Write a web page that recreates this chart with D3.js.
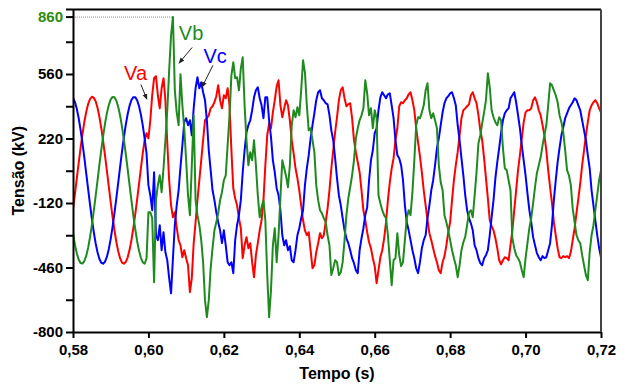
<!DOCTYPE html>
<html>
<head>
<meta charset="utf-8">
<script src="https://cdn.jsdelivr.net/npm/d3@7"></script>
<style>
  body { margin: 0; background: #fff; }
  svg { display: block; }
  text { font-family: Arial, "Liberation Sans", sans-serif; }
</style>
</head>
<body>
<svg id="chart" width="627" height="385"></svg>
<script>
// amostragem: 0,5 ms a partir de 0,58 s
const t0 = 0.58;
const dt = 0.0005;

// tensões de fase (kV)
const va = [
  -155,-75,8,90,169,242,307,360,401,428,
  440,435,416,382,334,275,205,129,48,-35,
  -117,-194,-265,-326,-376,-412,-434,-440,-431,-406,
  -367,-315,-252,-180,-102,-20,63,143,211,248,
  221,316,448,538,548,448,379,485,538,422,
  195,0,-132,-195,-169,-248,-316,-343,-406,-369,
  -411,-448,-590,-516,-332,-221,-105,0,105,211,
  316,327,343,379,390,411,443,501,422,379,
  448,432,485,395,158,-42,-95,-132,-200,-253,
  -411,-343,-300,-358,-332,-432,-511,-395,-332,-264,
  -211,-105,79,237,300,274,358,422,495,527,
  395,332,379,422,395,316,211,142,63,11,
  -53,-132,-211,-264,-290,-274,-369,-464,-448,-379,
  -332,-279,-306,-290,-221,-148,-53,63,158,253,
  332,422,474,490,432,390,400,406,327,211,
  148,95,42,-53,-158,-211,-274,-327,-358,-411,
  -453,-543,-474,-406,-369,-306,-221,-105,-11,63,
  116,211,274,390,411,406,422,432,453,464,
  422,369,274,200,126,42,-53,-132,-211,-279,
  -316,-358,-400,-432,-474,-490,-432,-400,-343,-274,
  -221,-105,0,79,148,237,327,369,379,390,
  400,448,464,432,406,343,263,211,116,11,
  -95,-211,-242,-264,-306,-358,-422,-443,-422,-406,
  -411,-422,-343,-264,-158,-53,53,132,221,306,
  358,369,369,379,422,437,411,369,343,290,
  237,158,53,-37,-121,-221,-290,-358,-406,-411,
  -400,-406,-400,-411,-379,-316,-253,-174,-95,-16,
  79,158,237,306,369,395,411,422,406,379,
  358
];

const vb = [
  -279,-338,-385,-418,-436,-439,-427,-399,-357,-302,
  -237,-163,-84,-2,81,160,234,300,355,397,
  426,439,437,419,386,340,282,213,137,57,
  -26,-108,-186,-257,-320,-371,-409,-432,-440,-411,
  -169,-169,-200,-538,-105,-26,26,-63,63,211,
  369,580,764,860,474,358,290,559,395,274,
  105,-79,-184,79,342,-105,-184,-237,-316,-432,
  -632,-722,-632,-464,-358,-264,-221,-174,-105,-63,
  0,26,184,342,553,622,538,543,474,590,
  648,395,211,79,148,105,211,79,-79,-195,
  -142,-105,-211,-500,-722,-580,-343,-253,-432,-290,
  -90,105,63,21,-37,79,290,369,332,385,
  342,474,632,569,395,263,274,211,148,-26,
  -105,-158,-174,-200,-221,-290,-343,-500,-464,-422,
  -432,-500,-485,-432,-316,-184,-95,-37,26,105,
  221,274,316,342,379,527,458,342,379,274,
  369,327,-79,-121,-158,-184,-200,-290,-422,-553,
  -422,-411,-279,-395,-453,-432,-316,-200,-158,-184,
  -63,105,290,332,327,358,395,474,511,369,
  327,353,316,274,79,-11,-53,-184,-221,-264,
  -316,-369,-411,-448,-511,-448,-369,-327,-299,-237,
  -169,-158,-195,-79,42,195,237,300,358,422,
  564,490,369,332,306,290,332,316,169,63,
  53,0,-53,-306,-358,-395,-411,-432,-474,-511,
  -411,-332,-253,-200,-121,-37,37,79,121,184,
  237,290,395,511,501,474,448,411,343,306,
  253,158,53,26,-26,-148,-221,-290,-316,-332,
  -395,-448,-500,-527,-379,-290,-237,-158,-79,0,
  53
];

const vc = [
  434,413,377,328,267,197,120,38,-44,-126,
  -203,-272,-332,-380,-415,-435,-440,-429,-403,-362,
  -309,-245,-172,-93,-11,72,152,227,293,349,
  393,423,438,438,422,391,346,289,219,141,
  -26,-79,-158,42,-290,-316,-237,-369,-274,-380,
  -422,-516,-596,-411,-237,-132,-53,69,184,306,
  327,290,316,237,379,485,543,485,516,464,
  422,316,158,53,-53,-105,-169,-221,-264,-331,
  -264,-343,-432,-448,-432,-490,-316,-237,-184,-105,
  42,158,253,290,316,369,437,474,490,432,
  395,327,437,437,316,227,105,42,-42,-79,
  -158,-290,-343,-316,-369,-348,-422,-432,-369,-290,
  -253,-200,-158,-26,63,132,221,290,353,422,
  464,474,432,422,406,400,343,263,211,116,
  11,-79,-132,-200,-264,-306,-332,-369,-411,-437,
  -474,-490,-369,-306,-253,-184,-142,0,105,158,
  248,274,369,437,464,448,432,453,458,395,
  327,211,132,116,79,0,-132,-221,-264,-316,
  -369,-411,-464,-490,-432,-358,-316,-290,-200,-132,
  -53,0,79,169,221,290,358,406,432,443,
  458,464,432,395,290,211,116,26,-79,-158,
  -200,-227,-264,-343,-369,-411,-437,-448,-411,-395,
  -369,-290,-195,-105,11,95,169,248,316,353,
  369,379,432,448,464,411,343,274,184,105,
  26,-69,-158,-221,-300,-343,-384,-406,-422,-400,
  -411,-406,-369,-332,-237,-105,0,95,169,237,
  279,327,353,379,395,411,432,422,395,369,
  316,263,211,132,63,-53,-132,-211,-290,-358,
  -406
];

const tempo = va.map((_, i) => +(t0 + i * dt).toFixed(4));

const xTicks = [0.58, 0.60, 0.62, 0.64, 0.66, 0.68, 0.70, 0.72];
const yTicks = [-800, -630, -460, -290, -120, 50, 220, 390, 560, 730];
const yLabels = [-800, -460, -120, 220, 560];
const yMax = 900;
const picoVb = 860;

// rótulos e setas, em unidades de dados
const rotulos = [
  { nome: 'Va', cor: '#ff0000', t: 0.5966, v: 530, de: [0.5980, 505], para: [0.5996, 427] },
  { nome: 'Vb', cor: '#1f8a1f', t: 0.6113, v: 740, de: [0.6116, 700], para: [0.6081, 617] },
  { nome: 'Vc', cor: '#0000ff', t: 0.6177, v: 617, de: [0.6171, 606], para: [0.6142, 490] }
];

const series = [
  { nome: 'Va', cor: '#ff0000', valores: va },
  { nome: 'Vc', cor: '#0000ff', valores: vc },
  { nome: 'Vb', cor: '#1f8a1f', valores: vb }
];

const svg = d3.select('#chart');
const margin = { left: 73, right: 601, top: 9.5, bottom: 332 };

const x = d3.scaleLinear().domain([0.58, 0.72]).range([margin.left, margin.right]);
const y = d3.scaleLinear().domain([-800, yMax]).range([margin.bottom, margin.top]);

const defs = svg.append('defs');
defs.append('clipPath').attr('id', 'clip')
  .append('rect')
  .attr('x', margin.left).attr('y', margin.top - 2)
  .attr('width', margin.right - margin.left)
  .attr('height', margin.bottom - margin.top + 2);

defs.append('marker')
  .attr('id', 'seta')
  .attr('viewBox', '0 0 10 10')
  .attr('refX', 9).attr('refY', 5)
  .attr('markerWidth', 6).attr('markerHeight', 6)
  .attr('markerUnits', 'userSpaceOnUse')
  .attr('orient', 'auto')
  .append('path')
  .attr('d', 'M0,1 L10,5 L0,9 Z')
  .attr('fill', '#222');

// linha pontilhada no pico de Vb
const iPico = vb.indexOf(picoVb);
svg.append('line')
  .attr('x1', x(0.58)).attr('x2', x(tempo[iPico]))
  .attr('y1', y(picoVb)).attr('y2', y(picoVb))
  .attr('stroke', '#888')
  .attr('stroke-width', 1)
  .attr('stroke-dasharray', '1,1');

// séries
const line = d3.line()
  .x((d, i) => x(tempo[i]))
  .y(d => y(d));

series.forEach(s => {
  svg.append('path')
    .datum(s.valores)
    .attr('clip-path', 'url(#clip)')
    .attr('fill', 'none')
    .attr('stroke', s.cor)
    .attr('stroke-width', 2)
    .attr('stroke-linejoin', 'round')
    .attr('d', line);
});

// eixo y
const gy = svg.append('g')
  .attr('transform', `translate(${margin.left},0)`)
  .call(d3.axisLeft(y)
    .tickValues(yTicks)
    .tickSize(7)
    .tickSizeOuter(0)
    .tickPadding(3)
    .tickFormat(d => yLabels.includes(d) ? d : ''));

// marca do pico (860) em verde
gy.append('line')
  .attr('x1', -7).attr('x2', 0)
  .attr('y1', y(picoVb)).attr('y2', y(picoVb))
  .attr('stroke', '#000');
gy.append('text')
  .attr('x', -10)
  .attr('y', y(picoVb))
  .attr('dy', '0.32em')
  .attr('text-anchor', 'end')
  .attr('fill', '#2e8b10')
  .text(picoVb);

// eixo x
const gx = svg.append('g')
  .attr('transform', `translate(0,${margin.bottom})`)
  .call(d3.axisBottom(x)
    .tickValues(xTicks)
    .tickSize(6)
    .tickSizeOuter(0)
    .tickPadding(5)
    .tickFormat(d => d3.format('.2f')(d).replace('.', ',')));

[gx, gy].forEach(g => {
  g.selectAll('.domain, .tick line').attr('stroke', '#000').attr('stroke-width', 2);
  g.selectAll('line').attr('stroke-width', 2);
  g.selectAll('text')
    .attr('font-size', 15)
    .attr('font-weight', 'bold')
    .attr('font-family', 'Arial, "Liberation Sans", sans-serif');
});
gx.selectAll('.tick text').attr('dy', '0.8em');

// moldura superior e direita
svg.append('line')
  .attr('x1', margin.left - 7).attr('x2', margin.right)
  .attr('y1', y(yMax)).attr('y2', y(yMax))
  .attr('stroke', '#000').attr('stroke-width', 2);
svg.append('line')
  .attr('x1', margin.right).attr('x2', margin.right)
  .attr('y1', y(yMax)).attr('y2', margin.bottom)
  .attr('stroke', '#444').attr('stroke-width', 2);

// rótulos das fases com setas
rotulos.forEach(r => {
  svg.append('text')
    .attr('x', x(r.t)).attr('y', y(r.v))
    .attr('text-anchor', 'middle')
    .attr('font-size', 20)
    .attr('fill', r.cor)
    .text(r.nome);
  svg.append('line')
    .attr('x1', x(r.de[0])).attr('y1', y(r.de[1]))
    .attr('x2', x(r.para[0])).attr('y2', y(r.para[1]))
    .attr('stroke', '#222')
    .attr('stroke-width', 1)
    .attr('marker-end', 'url(#seta)');
});

// títulos dos eixos
svg.append('text')
  .attr('x', (margin.left + margin.right) / 2)
  .attr('y', 379)
  .attr('text-anchor', 'middle')
  .attr('font-size', 16)
  .attr('font-weight', 'bold')
  .text('Tempo (s)');

svg.append('text')
  .attr('transform', `translate(24,${(margin.top + margin.bottom) / 2}) rotate(-90)`)
  .attr('text-anchor', 'middle')
  .attr('font-size', 16)
  .attr('font-weight', 'bold')
  .text('Tensão (kV)');
</script>
</body>
</html>
